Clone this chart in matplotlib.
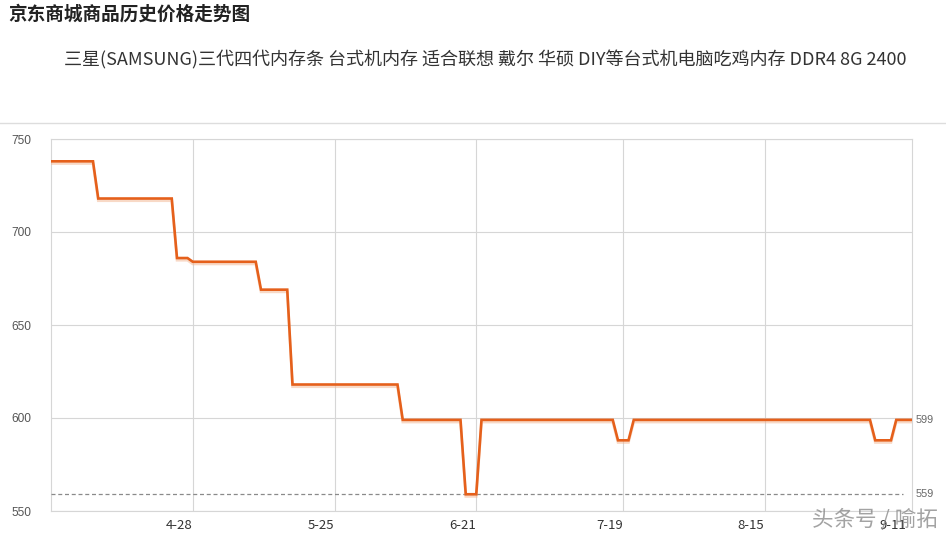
import matplotlib
matplotlib.use("Agg")
import matplotlib.pyplot as plt
import matplotlib.patheffects as pe
from matplotlib.lines import Line2D
from matplotlib.transforms import ScaledTranslation, blended_transform_factory
import pandas as pd

plt.rcParams['font.family'] = ['Noto Sans CJK SC', 'DejaVu Sans']

# Price history (vertices of the trend line)
dates = ['2018-04-01', '2018-04-09', '2018-04-10', '2018-04-24', '2018-04-25',
         '2018-04-27', '2018-04-28', '2018-05-10', '2018-05-11', '2018-05-16',
         '2018-05-17', '2018-06-06', '2018-06-07', '2018-06-18', '2018-06-19',
         '2018-06-21', '2018-06-22', '2018-07-17', '2018-07-18', '2018-07-20',
         '2018-07-21', '2018-09-04', '2018-09-05', '2018-09-08', '2018-09-09',
         '2018-09-12']
prices = [738, 738, 718, 718, 686,
          686, 684, 684, 669, 669,
          618, 618, 599, 599, 559,
          559, 599, 599, 588, 588,
          599, 599, 588, 588, 599,
          599]

tick_dates = ['2018-04-28', '2018-05-25', '2018-06-21', '2018-07-19',
              '2018-08-15', '2018-09-11']
tick_labels = ['4-28', '5-25', '6-21', '7-19', '8-15', '9-11']
y_ticks = [550, 600, 650, 700, 750]

title = '京东商城商品历史价格走势图'
subtitle = '三星(SAMSUNG)三代四代内存条 台式机内存 适合联想 戴尔 华硕 DIY等台式机电脑吃鸡内存 DDR4 8G 2400'
watermark = '头条号 / 喻拓'

x = pd.to_datetime(dates)
xt = pd.to_datetime(tick_dates)
current_price = prices[-1]
lowest_price = min(prices)

fig = plt.figure(figsize=(9.46, 5.38), dpi=100)
fig.patch.set_facecolor('white')
ax = fig.add_axes([51 / 946, 1 - 511 / 538, (912 - 51) / 946, (511 - 139) / 538])

line_color = '#e5601b'
ax.plot(x, prices, color=line_color, lw=1.9, solid_joinstyle='miter', zorder=4,
        path_effects=[pe.SimpleLineShadow(offset=(0, -1.6), shadow_color='#f3b48f', alpha=0.5),
                      pe.Normal()])

ax.axhline(lowest_price, xmin=0, xmax=0.99, color='#8a8a8a', lw=0.9,
           ls=(0, (3.2, 2.2)), zorder=3)

ax.set_xlim(x[0], x[-1])
ax.set_ylim(550, 750)

ax.set_yticks(y_ticks)
ax.set_yticklabels([str(v) for v in y_ticks], family='Liberation Sans',
                   fontsize=8.6, color='#555555')
ax.set_xticks(xt)
ax.set_xticklabels(tick_labels, fontsize=9.5, color='#333333')
ax.tick_params(axis='both', length=0)
ax.tick_params(axis='y', pad=14)
ax.tick_params(axis='x', pad=6)
for lab in ax.get_xticklabels():
    lab.set_transform(lab.get_transform() + ScaledTranslation(-0.14, 0, fig.dpi_scale_trans))

ax.grid(True, color='#d6d6d6', lw=0.8, zorder=0)
# the last date line sits against the right border
ax.get_xgridlines()[-1].set_visible(False)
for s in ax.spines.values():
    s.set_color('#d6d6d6')
    s.set_linewidth(0.8)

trans = blended_transform_factory(ax.transAxes, ax.transData)
ax.text(1.004, current_price, str(current_price), transform=trans, ha='left',
        va='center', family='Liberation Sans', fontsize=7.8, color='#666666')
ax.text(1.004, lowest_price, str(lowest_price), transform=trans, ha='left',
        va='center', family='Liberation Sans', fontsize=7.8, color='#666666')

fig.text(8 / 946, 1 - 14 / 538, title, ha='left', va='center', fontsize=13.4,
         fontweight='bold', color='#222222')
fig.text(64 / 946, 1 - 60 / 538, subtitle, ha='left', va='center', fontsize=13,
         color='#333333')
fig.add_artist(Line2D([0, 1], [1 - 123 / 538, 1 - 123 / 538], color='#dddddd', lw=1))

fig.text(812 / 946, 1 - 520 / 538, watermark, ha='left', va='center', fontsize=15.5,
         color='#8c8c8c', alpha=0.8, zorder=10)

fig.savefig('out.png', dpi=100, facecolor='white')
